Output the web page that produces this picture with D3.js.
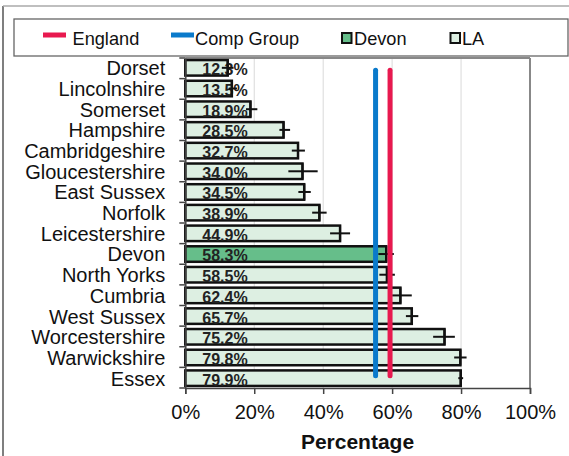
<!DOCTYPE html>
<html><head><meta charset="utf-8">
<script src="https://cdn.jsdelivr.net/npm/d3@7/dist/d3.min.js"></script>
<style>body{margin:0;background:#fff}svg{display:block;font-family:"Liberation Sans",Arial,sans-serif}</style>
</head><body><svg id="c" width="569" height="456"></svg>
<script>
const categories = ["Dorset","Lincolnshire","Somerset","Hampshire","Cambridgeshire","Gloucestershire","East Sussex","Norfolk","Leicestershire","Devon","North Yorks","Cumbria","West Sussex","Worcestershire","Warwickshire","Essex"];
const values = [12.3,13.5,18.9,28.5,32.7,34.0,34.5,38.9,44.9,58.3,58.5,62.4,65.7,75.2,79.8,79.9];
const lower  = [10.6,12.6,17.6,27.3,30.9,29.9,32.8,36.8,42.0,56.0,56.3,60.0,64.0,71.9,78.0,79.2];
const upper  = [14.0,15.0,20.9,30.4,34.7,38.4,36.4,41.0,47.8,60.5,60.8,65.7,67.6,78.2,81.6,80.6];
const highlight = "Devon";
const englandValue = 59.4;
const compGroupValue = 55.2;
const xTicks = [0,20,40,60,80,100];

const svg = d3.select("#c");
const X0 = 185.3, X1 = 530, Y0 = 58, Y1 = 388;
const x = d3.scaleLinear().domain([0,100]).range([X0,X1]);
const y = d3.scaleBand().domain(categories).range([Y0,Y1]).paddingInner(0.25).paddingOuter(0.1);
const bw = y.bandwidth();

// outer frame
svg.append("line").attr("x1",3).attr("x2",3).attr("y1",6).attr("y2",460).attr("stroke","#555").attr("stroke-width",1.5);
svg.append("line").attr("x1",3).attr("x2",575).attr("y1",6).attr("y2",6).attr("stroke","#aaa").attr("stroke-width",1.5);

// legend
svg.append("rect").attr("x",14).attr("y",19).attr("width",554).attr("height",37).attr("fill","#fff").attr("stroke","#666").attr("stroke-width",1.3);
const lg = svg.append("g").attr("font-size",18.2).attr("fill","#111");
lg.append("line").attr("x1",43).attr("x2",66).attr("y1",35).attr("y2",35).attr("stroke","#E8194F").attr("stroke-width",5);
lg.append("text").attr("x",72.5).attr("y",44.5).text("England");
lg.append("line").attr("x1",171).attr("x2",194).attr("y1",35).attr("y2",35).attr("stroke","#0A7ACB").attr("stroke-width",5);
lg.append("text").attr("x",195).attr("y",44.5).text("Comp Group");
lg.append("rect").attr("x",342).attr("y",33).attr("width",9.5).attr("height",10).attr("fill","#66BE8A").attr("stroke","#111").attr("stroke-width",2);
lg.append("text").attr("x",354).attr("y",44.5).text("Devon");
lg.append("rect").attr("x",450.5).attr("y",33).attr("width",9.5).attr("height",10).attr("fill","#DDEFE2").attr("stroke","#111").attr("stroke-width",2);
lg.append("text").attr("x",462).attr("y",44.5).text("LA");

// grid
svg.append("g").selectAll("line").data(xTicks.filter(d=>d>0&&d<100)).join("line")
  .attr("x1",d=>x(d)).attr("x2",d=>x(d)).attr("y1",Y0).attr("y2",Y1).attr("stroke","#d9d9d9").attr("stroke-width",1);
// plot border top/right
svg.append("line").attr("x1",X0).attr("x2",X1).attr("y1",Y0).attr("y2",Y0).attr("stroke","#888").attr("stroke-width",2);
svg.append("line").attr("x1",X1).attr("x2",X1).attr("y1",Y0).attr("y2",Y1).attr("stroke","#888").attr("stroke-width",2);

// bars
svg.append("g").selectAll("rect").data(categories).join("rect")
  .attr("x",x(0)).attr("y",d=>y(d)).attr("width",(d,i)=>x(values[i])-x(0)).attr("height",bw)
  .attr("fill",d=>d===highlight?"#66BE8A":"#DDEFE2").attr("stroke","#111").attr("stroke-width",2.5);

// value labels
svg.append("g").selectAll("text").data(categories).join("text")
  .attr("x",x(0)+17).attr("y",d=>y(d)+bw-0.3).attr("font-size",16).attr("font-weight","bold").attr("fill","#222")
  .text((d,i)=>values[i].toFixed(1)+"%");

// error bars
const eb = svg.append("g").attr("stroke","#111").attr("stroke-width",2);
categories.forEach((c,i)=>{
  const cy = y(c)+bw/2;
  eb.append("line").attr("x1",x(lower[i])).attr("x2",x(upper[i])).attr("y1",cy).attr("y2",cy);
  eb.append("line").attr("x1",x(values[i])).attr("x2",x(values[i])).attr("y1",cy-8).attr("y2",cy+8);
});

// reference lines
const yTop = y(categories[0])+bw/2+2.5, yBot = y(categories[categories.length-1])+bw/2-2.5;
[[compGroupValue,"#0A7ACB"],[englandValue,"#E8194F"]].forEach(([v,col])=>{
  svg.append("line").attr("x1",x(v)).attr("x2",x(v)).attr("y1",yTop).attr("y2",yBot)
    .attr("stroke",col).attr("stroke-width",5).attr("stroke-linecap","round");
});

// y axis
const ya = svg.append("g").attr("transform",`translate(${X0},0)`).call(d3.axisLeft(y).tickSize(0).tickPadding(20));
ya.select(".domain").attr("stroke","#444").attr("stroke-width",1.5);
ya.selectAll("text").attr("font-size",20).attr("font-family","Liberation Sans, Arial, sans-serif").attr("fill","#111").attr("dy","0.37em");
// boundary ticks
const step = (Y1-Y0)/categories.length;
svg.append("g").selectAll("line").data(d3.range(categories.length+1)).join("line")
  .attr("x1",X0-6).attr("x2",X0).attr("y1",d=>Y0+d*step).attr("y2",d=>Y0+d*step).attr("stroke","#444").attr("stroke-width",1.5);

// x axis
const xa = svg.append("g").attr("transform",`translate(0,${Y1})`).call(d3.axisBottom(x).tickValues(xTicks).tickFormat(d=>d+"%").tickSize(6).tickPadding(11));
xa.select(".domain").attr("stroke","#444").attr("stroke-width",1.5);
xa.selectAll("line").attr("stroke","#444").attr("stroke-width",1.5);
xa.selectAll("text").attr("font-size",20).attr("font-family","Liberation Sans, Arial, sans-serif").attr("fill","#111");

svg.append("text").attr("x",357.5).attr("y",448.5).attr("text-anchor","middle").attr("font-size",21).attr("font-weight","bold").attr("fill","#111").text("Percentage");
</script></body></html>
